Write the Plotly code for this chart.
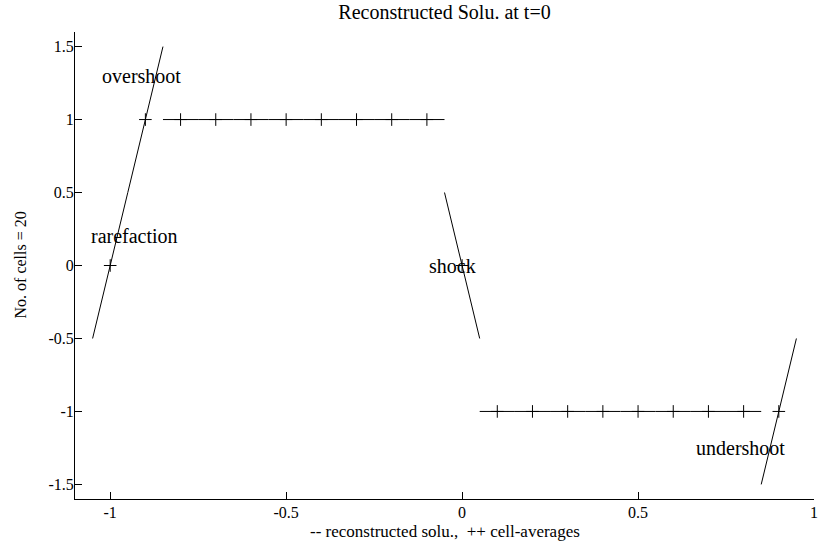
import plotly.graph_objects as go

# Cell data (cell centers, cell averages, reconstructed slopes)
cell_x = [-1.0, -0.9, -0.8, -0.7, -0.6, -0.5, -0.4, -0.3, -0.2, -0.1,
          0.0, 0.1, 0.2, 0.3, 0.4, 0.5, 0.6, 0.7, 0.8, 0.9]
cell_avg = [0, 1, 1, 1, 1, 1, 1, 1, 1, 1,
            0, -1, -1, -1, -1, -1, -1, -1, -1, -1]
cell_slope = [10, 10, 0, 0, 0, 0, 0, 0, 0, 0,
              -10, 0, 0, 0, 0, 0, 0, 0, 0, 10]
cell_h = 0.1

labels_text = ["overshoot", "rarefaction", "shock", "undershoot"]
labels_x = [-1.03, -1.06, -0.1, 0.66]
labels_y = [1.3, 0.2, 0.0, -1.25]

x_ticks = [-1, -0.5, 0, 0.5, 1]
y_ticks = [-1.5, -1, -0.5, 0, 0.5, 1, 1.5]

# Piecewise linear reconstruction segments
seg_x, seg_y = [], []
for xc, u, s in zip(cell_x, cell_avg, cell_slope):
    seg_x += [xc - cell_h / 2, xc + cell_h / 2, None]
    seg_y += [u - s * cell_h / 2, u + s * cell_h / 2, None]

FONT = "Liberation Serif"

fig = go.Figure()
fig.add_trace(go.Scatter(x=seg_x, y=seg_y, mode="lines",
                         line=dict(color="black", width=1), showlegend=False))
fig.add_trace(go.Scatter(x=cell_x, y=cell_avg, mode="markers",
                         marker=dict(symbol="cross-thin", size=9,
                                     line=dict(color="black", width=1)),
                         showlegend=False))

annotations = []
for t, x, y in zip(labels_text, labels_x, labels_y):
    annotations.append(dict(x=x, y=y, text=t, showarrow=False,
                            xanchor="left", yanchor="middle",
                            font=dict(family=FONT, size=20, color="black")))
annotations.append(dict(x=0.5, y=0, xref="paper", yref="paper",
                        text="-- reconstructed solu.,  ++ cell-averages",
                        showarrow=False, xanchor="center", yanchor="middle",
                        yshift=-32, font=dict(family=FONT, size=17, color="black")))
annotations.append(dict(x=0, y=0.5, xref="paper", yref="paper",
                        text="No. of cells = 20", textangle=-90,
                        showarrow=False, xanchor="center", yanchor="middle",
                        xshift=-55, font=dict(family=FONT, size=16, color="black")))

fig.update_layout(
    width=819, height=543,
    margin=dict(l=75, r=5, t=32, b=44),
    paper_bgcolor="white", plot_bgcolor="white",
    font=dict(family=FONT, size=16, color="black"),
    title=dict(text="Reconstructed Solu. at t=0", x=0.5, xref="paper",
               y=1 - 12 / 543, yref="container", yanchor="middle",
               xanchor="center", font=dict(family=FONT, size=20, color="black")),
    annotations=annotations,
    xaxis=dict(range=[-1.1, 1], tickvals=x_ticks, ticktext=[str(v) for v in x_ticks],
               showgrid=False, zeroline=False, showline=True, linecolor="black",
               linewidth=1, ticks="inside", ticklen=7, tickcolor="black",
               mirror=False, automargin=False, ticklabelstandoff=-1),
    yaxis=dict(range=[-1.6, 1.6], tickvals=y_ticks, ticktext=[str(v) for v in y_ticks],
               showgrid=False, zeroline=False, showline=True, linecolor="black",
               linewidth=1, ticks="inside", ticklen=7, tickcolor="black",
               mirror=False, automargin=False, ticklabelstandoff=-3),
)

fig.write_html("out.html")
